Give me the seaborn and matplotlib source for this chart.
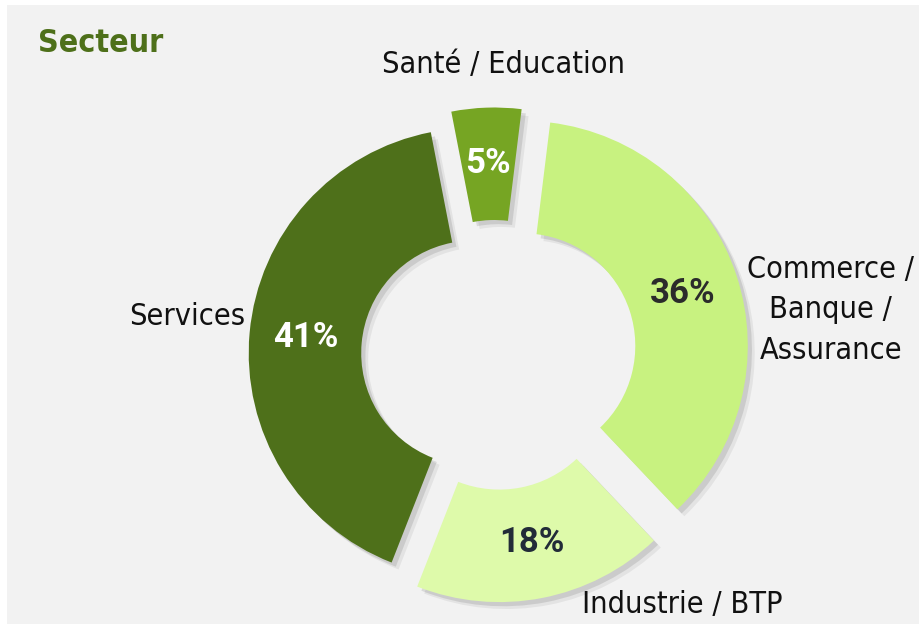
import numpy as np
import matplotlib.pyplot as plt
import matplotlib.patheffects as pe
from matplotlib.patches import Rectangle
import seaborn as sns

# Répartition par secteur
sectors = ["Santé / Education", "Commerce /\nBanque /\nAssurance", "Industrie / BTP", "Services"]
shares = [5, 36, 18, 41]

colors = ["#76a523", "#c8f280", "#defaaa", "#4e701a"]
pct_colors = ["white", "#2b2b2b", "#222b38", "white"]
explode = [0.10, 0.13, 0.10, 0.095]
# label placement: (distance from wedge centre, angle nudge in degrees, ha)
label_pos = [(1.19, -4, "center"), (1.01, -9, "left"), (1.075, 9, "left"), (1.03, -4, "right")]

sns.set_theme(style="white")
plt.rcParams["font.family"] = ["DejaVu Sans"]
plt.rcParams["font.stretch"] = "condensed"

fig = plt.figure(figsize=(9.2, 6.24), dpi=100)
fig.patch.set_facecolor("white")
fig.add_artist(Rectangle((7 / 920, 0), 1, 1 - 5 / 624, transform=fig.transFigure,
                         facecolor="#f2f2f2", edgecolor="none", zorder=0))
ax = fig.add_axes([0, 0, 1, 1])
ax.patch.set_alpha(0)

wedges, texts, autotexts = ax.pie(
    shares, labels=sectors, colors=colors, explode=explode,
    startangle=101, counterclock=False, autopct="%.0f%%", pctdistance=0.75,
    wedgeprops=dict(width=0.5, linewidth=0))

for w in wedges:
    w.set_path_effects([
        pe.SimplePatchShadow(offset=(5, -5), shadow_rgbFace="black", alpha=0.06),
        pe.SimplePatchShadow(offset=(3, -3), shadow_rgbFace="black", alpha=0.10),
        pe.Normal()])

for t, c in zip(autotexts, pct_colors):
    t.set(color=c, fontfamily="Roboto", fontstretch="normal", fontweight="bold", fontsize=25)

for w, t, (r, dth, ha) in zip(wedges, texts, label_pos):
    th = np.deg2rad((w.theta1 + w.theta2) / 2 + dth)
    cx, cy = w.center
    t.set_position((cx + r * np.cos(th), cy + r * np.sin(th)))
    t.set(ha=ha, va="center", multialignment="center", fontsize=22,
          linespacing=1.5, color="#111111")

ax.set_xlim(-495 / 225, 425 / 225)
ax.set_ylim(-269 / 225, 355 / 225)
ax.set_aspect("equal")
ax.axis("off")

fig.text(38 / 920, 1 - 44 / 624, "Secteur", ha="left", va="center",
         fontsize=23, fontweight="bold", color="#4e701a")

fig.savefig("out.png", dpi=100)
